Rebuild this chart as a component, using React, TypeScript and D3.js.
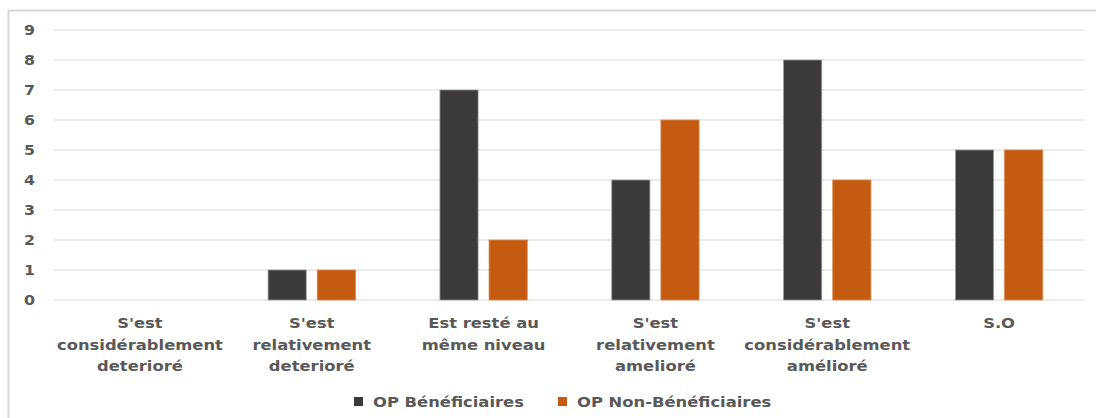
import React from "react";
import * as d3 from "d3";

const categories: string[][] = [
  ["S'est", "considérablement", "deterioré"],
  ["S'est", "relativement", "deterioré"],
  ["Est resté au", "même niveau"],
  ["S'est", "relativement", "amelioré"],
  ["S'est", "considérablement", "amélioré"],
  ["S.O"],
];
const beneficiaires = [0, 1, 7, 4, 8, 5];
const nonBeneficiaires = [0, 1, 2, 6, 4, 5];
const seriesNames = ["OP Bénéficiaires", "OP Non-Bénéficiaires"];
const seriesColors = ["#3b3a38", "#c55a11"];
const yTicks = [0, 1, 2, 3, 4, 5, 6, 7, 8, 9];

const W = 1096;
const H = 418;
const left = 54;
const right = 1085;
const top = 30;
const bottom = 300;
const font = "'DejaVu Sans', Verdana, sans-serif";
const textColor = "#595959";
const stretch = 1.17;

export default function App() {
  const x = d3
    .scaleBand<number>()
    .domain(categories.map((_, i) => i))
    .range([left, right]);
  const y = d3.scaleLinear().domain([0, 9]).range([bottom, top]);
  const barW = x.bandwidth() * 0.222;
  const gap = 11;
  const series = [beneficiaires, nonBeneficiaires];

  return (
    <svg
      width={W}
      height={H}
      style={{ position: "absolute", left: 0, top: 0, background: "#fff" }}
    >
      <line x1={8.5} x2={8.5} y1={10} y2={H} stroke="#d9d9d9" strokeWidth={2} />
      <line x1={8} x2={W} y1={10.5} y2={10.5} stroke="#d9d9d9" strokeWidth={2} />
      {yTicks.map((t) => (
        <g key={t}>
          <line
            x1={left}
            x2={right}
            y1={y(t)}
            y2={y(t)}
            stroke="#d9d9d9"
            strokeWidth={1.2}
          />
          <text
            transform={`translate(35,${y(t)}) scale(${stretch},1)`}
            dy="0.36em"
            textAnchor="end"
            fontFamily={font}
            fontWeight="bold"
            fontSize={13.5}
            fill={textColor}
          >
            {t}
          </text>
        </g>
      ))}
      {series.map((vals, si) =>
        vals.map((v, i) => {
          const c = (x(i) as number) + x.bandwidth() / 2;
          const bx = si === 0 ? c - gap / 2 - barW : c + gap / 2;
          return v > 0 ? (
            <rect
              key={`${si}-${i}`}
              x={bx}
              y={y(v)}
              width={barW}
              height={y(0) - y(v)}
              fill={seriesColors[si]}
              stroke={si === 0 ? "#9a9a9a" : "#d9864f"}
              strokeWidth={0.8}
            />
          ) : null;
        })
      )}
      {categories.map((lines, i) => {
        const c = (x(i) as number) + x.bandwidth() / 2;
        return (
          <g key={i}>
            {lines.map((l, j) => (
              <text
                key={j}
                transform={`translate(${c},${328 + j * 21.5}) scale(${stretch},1)`}
                textAnchor="middle"
                fontFamily={font}
                fontWeight="bold"
                fontSize={14}
                fill={textColor}
              >
                {l}
              </text>
            ))}
          </g>
        );
      })}
      {seriesNames.map((name, si) => {
        const lx = si === 0 ? 354 : 558;
        return (
          <g key={name}>
            <rect x={lx} y={397} width={9} height={9} fill={seriesColors[si]} />
            <text
              transform={`translate(${lx + 19},402) scale(${stretch},1)`}
              dy="0.36em"
              fontFamily={font}
              fontWeight="bold"
              fontSize={14}
              fill={textColor}
            >
              {name}
            </text>
          </g>
        );
      })}
    </svg>
  );
}
